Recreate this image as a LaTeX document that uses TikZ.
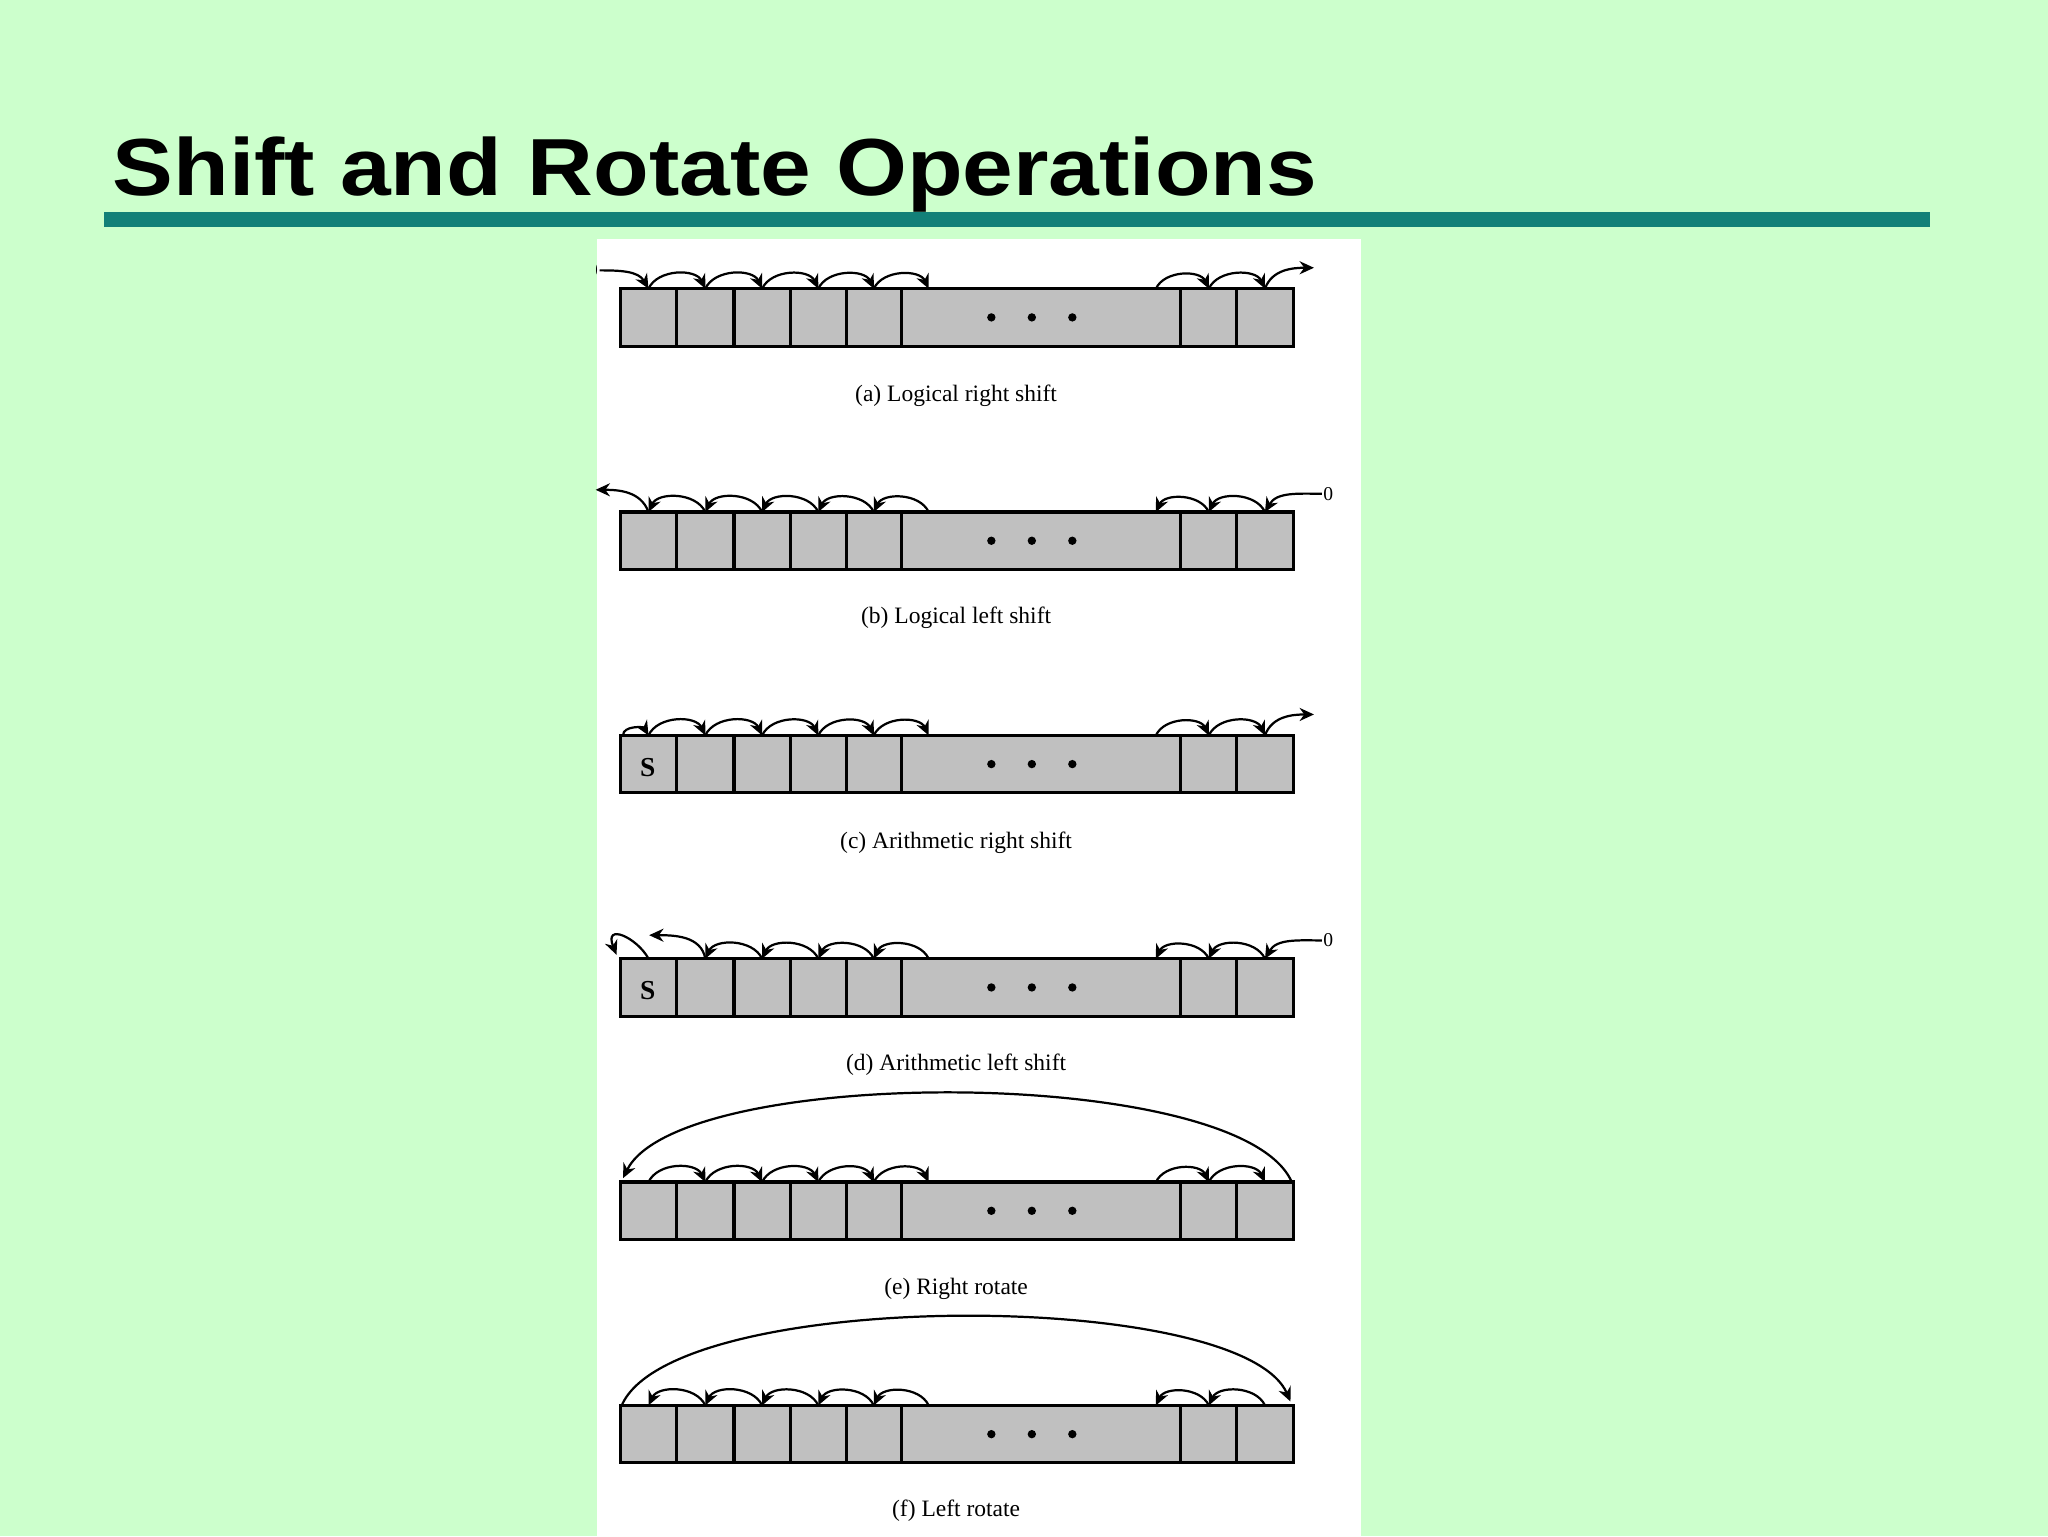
\documentclass[tikz,border=0pt]{standalone}
\usepackage{fontspec}
\setmainfont{Liberation Serif}
\newfontfamily\titlefont{Liberation Sans}
\usetikzlibrary{arrows.meta}
\definecolor{bg}{RGB}{204,255,204}
\definecolor{bar}{RGB}{18,128,120}
\definecolor{cellgray}{RGB}{192,192,192}
\tikzset{
  cellbox/.style={draw=black,line width=2.4pt,fill=cellgray},
  arr/.style={line width=1.7pt,-{Stealth[length=11pt,width=10pt]}},
  lbl/.style={font=\fontsize{18}{21}\selectfont,inner sep=0pt},
  zero/.style={font=\fontsize{15}{18}\selectfont,inner sep=1pt}
}
\newcommand\regrow[2]{%
  \foreach \l/\r [count=\i] in {475/518,518/562,562/605,605/648,648/690,690/904,904/947,947/990}{
    \draw[cellbox] (\l,#2) rectangle (\r,#2+44);
    \coordinate (#1\i) at ({(\l+\r)/2},#2);
  }
  \coordinate (#1L) at (711,#2);
  \coordinate (#1R) at (885,#2);
  \foreach \x in {759,790,821}{\fill (\x,#2+22) circle (3.2);}
}
\newcommand\rightarcs[1]{%
  \draw[arr] (#11) to[out=65,in=115] (#12);
  \draw[arr] (#12) to[out=65,in=115] (#13);
  \draw[arr] (#13) to[out=65,in=115] (#14);
  \draw[arr] (#14) to[out=65,in=115] (#15);
  \draw[arr] (#15) to[out=65,in=115] (#1L);
  \draw[arr] (#1R) to[out=65,in=115] (#17);
  \draw[arr] (#17) to[out=65,in=115] (#18);
}
\newcommand\leftarcs[1]{%
  \draw[arr] (#12) to[out=115,in=65] (#11);
  \draw[arr] (#13) to[out=115,in=65] (#12);
  \draw[arr] (#14) to[out=115,in=65] (#13);
  \draw[arr] (#15) to[out=115,in=65] (#14);
  \draw[arr] (#1L) to[out=115,in=65] (#15);
  \draw[arr] (#17) to[out=115,in=65] (#1R);
  \draw[arr] (#18) to[out=115,in=65] (#17);
}
\begin{document}
\begin{tikzpicture}[x=1pt,y=-1pt]
\fill[bg] (0,0) rectangle (1568,1176);
\useasboundingbox (0,0) rectangle (1568,1176);
\node[anchor=base west,inner sep=0pt,xscale=1.125,font=\titlefont\bfseries\fontsize{62}{70}\selectfont] (title) at (86,150) {Shift and Rotate Operations};
\fill[bar] (80,162) rectangle (1478,174);
\fill[white] (457,183) rectangle (1042,1176);

% (a)
\regrow{a}{221}
\begin{scope}
\clip (457,183) rectangle (1042,260);
\node[zero,anchor=east] (za) at (459,207) {0};
\end{scope}
\draw[arr] (za.east) to[out=0,in=120] (a1);
\rightarcs{a}
\coordinate (aout) at (1006,205);
\draw[arr] (a8) to[out=70,in=180] (aout);
\node[lbl] (la) at (732,303) {(a) Logical right shift};

% (b)
\regrow{b}{392}
\leftarcs{b}
\coordinate (bout) at (456,375);
\draw[arr] (b1) to[out=110,in=0] (bout);
\node[zero,anchor=west] (zb) at (1012,378) {0};
\draw[arr] (zb.west) to[out=180,in=60] (b8);
\node[lbl] (lb) at (732,473) {(b) Logical left shift};

% (c)
\regrow{c}{563}
\node[font=\bfseries\fontsize{21}{24}\selectfont] (sc) at (496,588) {S};
\coordinate (cs) at (477,563);
\draw[arr] (cs) to[out=90,in=120] (c1);
\rightarcs{c}
\coordinate (cout) at (1006,547);
\draw[arr] (c8) to[out=70,in=180] (cout);
\node[lbl] (lc) at (732,645) {(c) Arithmetic right shift};

% (d)
\regrow{d}{734}
\node[font=\bfseries\fontsize{21}{24}\selectfont] (sd) at (496,758) {S};
\coordinate (dloop) at (472,731);
\draw[arr] (d1) .. controls (488,718) and (462,706) .. (dloop);
\coordinate (dout) at (497,716);
\draw[arr] (d2) to[out=100,in=0] (dout);
\draw[arr] (d3) to[out=115,in=65] (d2);
\draw[arr] (d4) to[out=115,in=65] (d3);
\draw[arr] (d5) to[out=115,in=65] (d4);
\draw[arr] (dL) to[out=115,in=65] (d5);
\draw[arr] (d7) to[out=115,in=65] (dR);
\draw[arr] (d8) to[out=115,in=65] (d7);
\node[zero,anchor=west] (zd) at (1012,720) {0};
\draw[arr] (zd.west) to[out=180,in=60] (d8);
\node[lbl] (ld) at (732,815) {(d) Arithmetic left shift};

% (e)
\regrow{e}{905}
\rightarcs{e}
\coordinate (eS) at (989,905);
\coordinate (eE) at (477,902);
\draw[arr] (eS) .. controls (950,815) and (520,815) .. (eE);
\node[lbl] (le) at (732,987) {(e) Right rotate};

% (f)
\regrow{f}{1076}
\leftarcs{f}
\coordinate (fS) at (476,1076);
\coordinate (fE) at (988,1073);
\draw[arr] (fS) .. controls (515,986) and (950,986) .. (fE);
\node[lbl] (lf) at (732,1157) {(f) Left rotate};
\end{tikzpicture}
\end{document}
